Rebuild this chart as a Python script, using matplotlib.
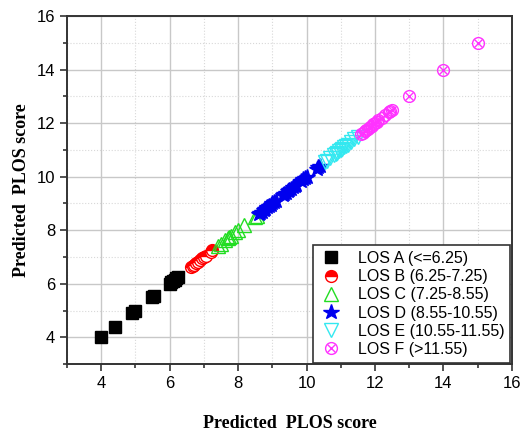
import numpy as np
import matplotlib
matplotlib.use("Agg")
import matplotlib.pyplot as plt
from matplotlib.ticker import MultipleLocator
from matplotlib.legend_handler import HandlerTuple

# y = x pairs, one list per LOS class
los_a = [4.0, 4.4, 4.9, 5.0, 5.5, 5.55, 6.0, 6.05, 6.1, 6.15, 6.2, 6.25]
los_b = [6.62, 6.68, 6.72, 6.78, 6.82, 6.88, 6.95, 7.0, 7.05, 7.2, 7.25]
los_c = [7.4, 7.5, 7.62, 7.7, 7.75, 7.8, 7.92, 8.0, 8.18, 8.5, 8.55]
los_d = [8.6, 8.65, 8.7, 8.75, 8.8, 8.85, 8.9, 8.95, 9.0, 9.05, 9.1, 9.3, 9.35, 9.4,
         9.45, 9.5, 9.55, 9.6, 9.65, 9.7, 9.85, 9.9, 9.95, 10.0, 10.3, 10.35, 10.4]
los_e = [10.55, 10.6, 10.7, 10.8, 10.85, 10.9, 10.95, 11.0, 11.05, 11.1, 11.15,
         11.2, 11.3, 11.4, 11.5]
los_f = [11.6, 11.65, 11.7, 11.75, 11.8, 11.85, 11.9, 11.95, 12.0, 12.05, 12.1,
         12.2, 12.3, 12.4, 12.45, 12.5, 13.0, 14.0, 15.0]
labels = ["LOS A (<=6.25)", "LOS B (6.25-7.25)", "LOS C (7.25-8.55)",
          "LOS D (8.55-10.55)", "LOS E (10.55-11.55)", "LOS F (>11.55)"]

plt.rcParams.update({"font.family": "Liberation Sans", "font.size": 11.5})
fig, ax = plt.subplots(figsize=(5.31, 4.34), dpi=100)
fig.subplots_adjust(left=0.126, right=0.964, top=0.963, bottom=0.161)

ms = 8.5
ha = ax.plot(los_a, los_a, "s", color="black", ms=ms, ls="none")[0]
hb = ax.plot(los_b, los_b, "o", color="red", mfc="red", mfcalt="white", fillstyle="top",
             mec="red", ms=ms, ls="none", mew=1.0)[0]
hc = ax.plot(los_c, los_c, "^", mfc="none", mec="#22dd22", ms=ms + 1, ls="none", mew=1.0)[0]
hd = ax.plot(los_d, los_d, "*", color="#0000ee", ms=ms + 3, ls="none")[0]
he = ax.plot(los_e, los_e, "v", mfc="none", mec="#33e8f0", ms=ms + 1, ls="none", mew=1.0)[0]
hf1 = ax.plot(los_f, los_f, "o", mfc="none", mec="#ff33ff", ms=ms, ls="none", mew=1.0)[0]
hf2 = ax.plot(los_f, los_f, "x", color="#ff33ff", ms=ms * 0.7, ls="none", mew=1.0)[0]

ax.set_xlim(3, 16); ax.set_ylim(3, 16)
ax.xaxis.set_minor_locator(MultipleLocator(1))
ax.yaxis.set_minor_locator(MultipleLocator(1))
ax.set_xticks([4, 6, 8, 10, 12, 14, 16])
ax.set_yticks([4, 6, 8, 10, 12, 14, 16])
ax.grid(which="major", color="#c8c8c8", lw=1.0)
ax.grid(which="minor", color="#d8d8d8", lw=0.8, ls=":")
ax.set_axisbelow(True)
ax.tick_params(which="both", direction="out", width=1.2, color="#333333")
ax.tick_params(which="major", length=5, labelsize=12)
ax.tick_params(which="minor", length=3)
for s in ax.spines.values():
    s.set_linewidth(1.4); s.set_color("#333333")

font_lab = dict(family="Liberation Serif", fontweight="bold", fontsize=13)
ax.set_xlabel("Predicted  PLOS score", labelpad=17, **font_lab)
ax.set_ylabel("Predicted  PLOS score", labelpad=5, **font_lab)

leg = ax.legend([ha, hb, hc, hd, he, (hf1, hf2)], labels, loc="lower right",
                handler_map={tuple: HandlerTuple(ndivide=1, pad=0)},
                fancybox=False, edgecolor="#333333", framealpha=1, fontsize=11.5,
                borderaxespad=0.1, handletextpad=0.9, handlelength=1.6,
                labelspacing=0.2, borderpad=0.35)
leg.get_frame().set_linewidth(1.2)

fig.savefig("out.png")
